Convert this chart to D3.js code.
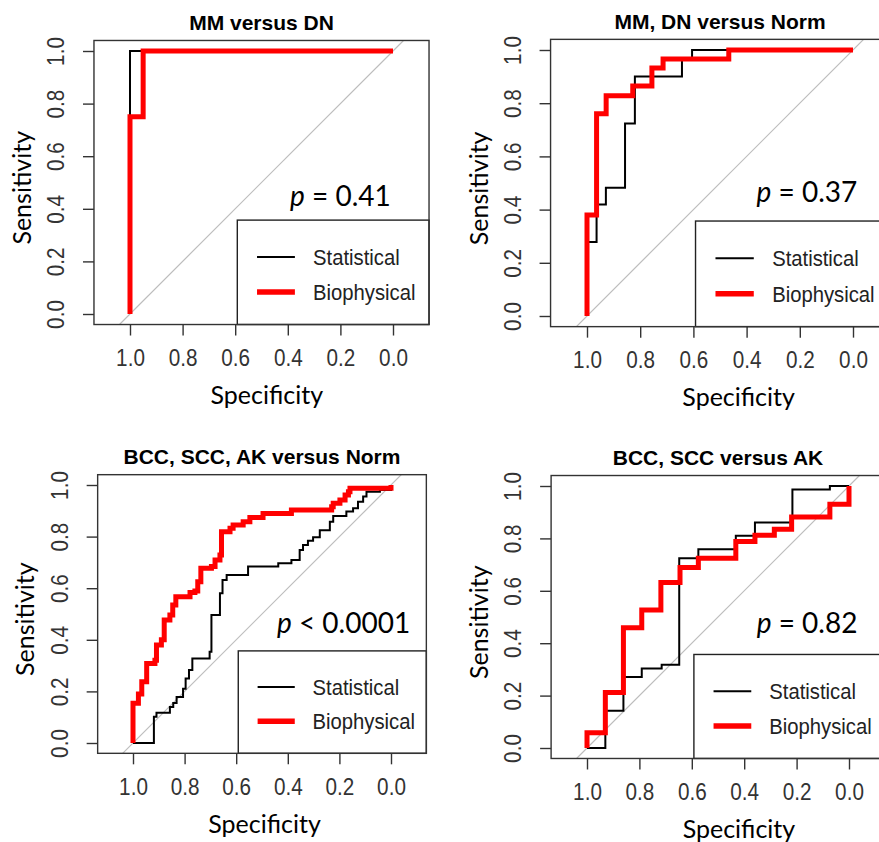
<!DOCTYPE html>
<html>
<head>
<meta charset="utf-8">
<script src="https://cdn.jsdelivr.net/npm/d3@7"></script>
<style>
  body { margin: 0; background: #fff; }
  svg { display: block; }
</style>
</head>
<body>
<div id="chart"></div>
<script>
// chart values
const titles = ["MM versus DN", "MM, DN versus Norm", "BCC, SCC, AK versus Norm", "BCC, SCC versus AK"]
const pTexts = [" = 0.41", " = 0.37", " < 0.0001", " = 0.82"]
const legendLabels = ["Statistical", "Biophysical"]
const ticks = [1.0, 0.8, 0.6, 0.4, 0.2, 0.0]

// [specificity, sensitivity] corners of each ROC curve
const mmDnStat = [[1, 0], [1, 1], [0, 1]]
const mmDnBio = [[1, 0], [1, 0.75], [0.95, 1], [0, 1]]

const mmDnNormStat = [[1, 0], [1, 0.278], [0.964, 0.419], [0.929, 0.482], [0.857, 0.724],
  [0.82, 0.9], [0.643, 0.966], [0.605, 1], [0, 1]]
const mmDnNormBio = [[1, 0], [1, 0.38], [0.964, 0.76], [0.928, 0.828], [0.828, 0.865],
  [0.756, 0.932], [0.714, 0.966], [0.467, 1], [0, 1]]

const skinNormStat = [[1, 0], [0.919, 0.102], [0.909, 0.117], [0.857, 0.14], [0.844, 0.155],
  [0.831, 0.178], [0.806, 0.21], [0.796, 0.25], [0.783, 0.283], [0.77, 0.328], [0.703, 0.354],
  [0.696, 0.496], [0.663, 0.58], [0.653, 0.632], [0.637, 0.651], [0.554, 0.684], [0.437, 0.697],
  [0.386, 0.709], [0.354, 0.748], [0.341, 0.767], [0.322, 0.784], [0.302, 0.797], [0.276, 0.825],
  [0.237, 0.858], [0.224, 0.88], [0.173, 0.897], [0.147, 0.91], [0.128, 0.935], [0.108, 0.955],
  [0.095, 0.974], [0.043, 0.981], [0, 1]]
const skinNormBio = [[1, 0], [1, 0.154], [0.979, 0.19], [0.966, 0.237], [0.947, 0.308],
  [0.915, 0.321], [0.909, 0.38], [0.89, 0.4], [0.879, 0.477], [0.857, 0.496], [0.846, 0.535],
  [0.834, 0.567], [0.779, 0.583], [0.76, 0.589], [0.749, 0.625], [0.737, 0.677], [0.696, 0.684],
  [0.682, 0.709], [0.663, 0.729], [0.657, 0.819], [0.624, 0.832], [0.612, 0.845], [0.573, 0.858],
  [0.547, 0.874], [0.496, 0.89], [0.386, 0.903], [0.23, 0.916], [0.224, 0.929], [0.198, 0.942],
  [0.178, 0.961], [0.165, 0.974], [0.159, 0.987], [0, 1]]

const skinAkStat = [[1, 0], [0.93, 0.142], [0.861, 0.271], [0.791, 0.303], [0.715, 0.318],
  [0.648, 0.724], [0.575, 0.759], [0.432, 0.81], [0.359, 0.861], [0.216, 0.987], [0.073, 1], [0, 1]]
const skinAkBio = [[1, 0], [1, 0.058], [0.93, 0.212], [0.861, 0.459], [0.791, 0.527],
  [0.718, 0.632], [0.645, 0.689], [0.575, 0.724], [0.432, 0.788], [0.359, 0.812], [0.285, 0.835],
  [0.219, 0.882], [0.073, 0.93], [0, 1]]

// layout of the four panels (pixel origin of spec=1 / sens=0 and size of one unit)
const panels = [
  {title: titles[0], p: pTexts[0], stat: mmDnStat, bio: mmDnBio, ox: 130, oy: 314, unit: 263, pX: 0.2, pY: 0.449, labX: 0.48},
  {title: titles[1], p: pTexts[1], stat: mmDnNormStat, bio: mmDnNormBio, ox: 587, oy: 316, unit: 266, pX: 0.173, pY: 0.466, labX: 0.43},
  {title: titles[2], p: pTexts[2], stat: skinNormStat, bio: skinNormBio, ox: 133, oy: 743, unit: 258, pX: 0.184, pY: 0.465, labX: 0.49},
  {title: titles[3], p: pTexts[3], stat: skinAkStat, bio: skinAkBio, ox: 587, oy: 748, unit: 262, pX: 0.16, pY: 0.477, labX: 0.42}
]

const width = 879
const height = 842
const tickFont = "'Liberation Sans', Arial, sans-serif"
const labelFont = "Lato, 'Open Sans', sans-serif"
// R's device text is a bit narrow compared to Arial
const squeeze = "scale(0.9,1)"

var svg = d3.select("#chart")
  .append("svg")
    .attr("width", width)
    .attr("height", height)

panels.forEach(function(pn, i) {

  var x = d3.scaleLinear().domain([1, 0]).range([pn.ox, pn.ox + pn.unit])
  var y = d3.scaleLinear().domain([0, 1]).range([pn.oy, pn.oy - pn.unit])

  // plot region in data units (R style extension)
  var bx0 = x(1.137), bx1 = x(-0.137), by0 = y(-0.04), by1 = y(1.04)

  var g = svg.append("g").attr("class", "panel" + i)

  var clipId = "clip" + i
  g.append("clipPath").attr("id", clipId)
    .append("rect")
      .attr("x", bx0).attr("y", by1)
      .attr("width", bx1 - bx0).attr("height", by0 - by1)

  // diagonal reference line
  g.append("line")
    .attr("clip-path", "url(#" + clipId + ")")
    .attr("x1", x(1.04)).attr("y1", y(-0.04))
    .attr("x2", x(-0.04)).attr("y2", y(1.04))
    .attr("stroke", "#bdbdbd")
    .attr("stroke-width", 1.2)

  // x axis
  var xAxis = g.append("g")
    .attr("transform", "translate(0," + by0 + ")")
    .call(d3.axisBottom(x).tickValues(ticks).tickSize(11).tickPadding(14).tickFormat(d3.format(".1f")))
  xAxis.select(".domain").remove()
  xAxis.selectAll("line").attr("stroke", "#333").attr("stroke-width", 1.4)
  xAxis.selectAll("text")
    .attr("transform", squeeze)
    .attr("fill", "#333")
    .style("font-family", tickFont)
    .style("font-size", "23px")

  // y axis, labels parallel to the axis
  var yAxis = g.append("g")
    .attr("transform", "translate(" + bx0 + ",0)")
    .call(d3.axisLeft(y).tickValues(ticks).tickSize(11).tickFormat(d3.format(".1f")))
  yAxis.select(".domain").remove()
  yAxis.selectAll("line").attr("stroke", "#333").attr("stroke-width", 1.4)
  yAxis.selectAll("text")
    .attr("x", 0)
    .attr("y", -38)
    .attr("dy", "0.35em")
    .attr("transform", "rotate(-90) " + squeeze)
    .attr("text-anchor", "middle")
    .attr("fill", "#333")
    .style("font-family", tickFont)
    .style("font-size", "23px")

  // curves
  var line = d3.line()
    .x(function(d) { return x(d[0]) })
    .y(function(d) { return y(d[1]) })
    .curve(d3.curveStepAfter)

  g.append("path")
    .datum(pn.stat)
    .attr("d", line)
    .attr("fill", "none")
    .attr("stroke", "#000")
    .attr("stroke-width", 2)

  g.append("path")
    .datum(pn.bio)
    .attr("d", line)
    .attr("fill", "none")
    .attr("stroke", "#ff0000")
    .attr("stroke-width", 5)

  // legend
  var lx = x(0.592), ly = y(0.357)
  g.append("rect")
    .attr("x", lx).attr("y", ly)
    .attr("width", bx1 - lx).attr("height", by0 - ly)
    .attr("fill", "#fff")
    .attr("stroke", "#222")
    .attr("stroke-width", 1.4)

  var legY = [0.217, 0.084]
  var legCol = ["#000", "#ff0000"]
  var legW = [2, 5.5]
  legendLabels.forEach(function(lab, k) {
    g.append("line")
      .attr("x1", x(0.517)).attr("x2", x(0.373))
      .attr("y1", y(legY[k])).attr("y2", y(legY[k]))
      .attr("stroke", legCol[k])
      .attr("stroke-width", legW[k])
    g.append("text")
      .attr("transform", "translate(" + x(0.304) + "," + y(legY[k]) + ") " + squeeze)
      .attr("dy", "0.35em")
      .attr("fill", "#222")
      .style("font-family", tickFont)
      .style("font-size", "22.5px")
      .text(lab)
  })

  // box
  g.append("rect")
    .attr("x", bx0).attr("y", by1)
    .attr("width", bx1 - bx0).attr("height", by0 - by1)
    .attr("fill", "none")
    .attr("stroke", "#333")
    .attr("stroke-width", 1.4)

  // p value
  var pt = g.append("text")
    .attr("x", x(pn.pX))
    .attr("y", y(pn.pY))
    .attr("dy", "0.35em")
    .attr("text-anchor", "middle")
    .style("font-family", labelFont)
    .style("font-size", "28px")
  pt.append("tspan").style("font-style", "italic").text("p")
  pt.append("tspan").text(pn.p)

  // title
  g.append("text")
    .attr("x", (bx0 + bx1) / 2)
    .attr("y", by1 - 18)
    .attr("dy", "0.35em")
    .attr("text-anchor", "middle")
    .style("font-family", tickFont)
    .style("font-weight", "bold")
    .style("font-size", "21px")
    .text(pn.title)

  // axis labels
  g.append("text")
    .attr("transform", "translate(" + (pn.ox - 108) + "," + y(0.48) + ") rotate(-90)")
    .attr("dy", "0.35em")
    .attr("text-anchor", "middle")
    .style("font-family", labelFont)
    .style("font-size", "25px")
    .text("Sensitivity")

  g.append("text")
    .attr("x", x(pn.labX))
    .attr("y", pn.oy + 81)
    .attr("dy", "0.35em")
    .attr("text-anchor", "middle")
    .style("font-family", labelFont)
    .style("font-size", "25px")
    .text("Specificity")
})
</script>
</body>
</html>
